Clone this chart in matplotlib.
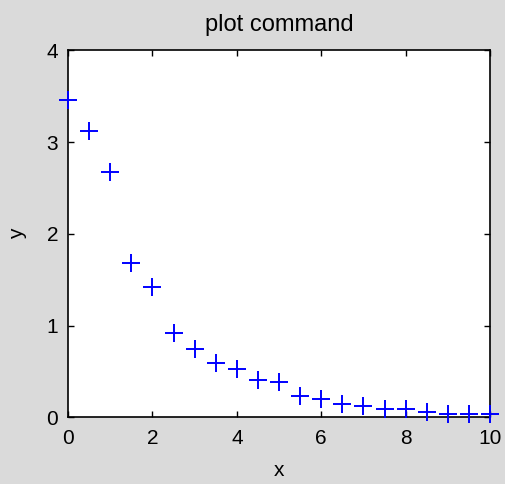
import matplotlib
matplotlib.use("Agg")
import matplotlib.pyplot as plt

# sample points and measured response
x_vals = [0, 0.5, 1, 1.5, 2, 2.5, 3, 3.5, 4, 4.5, 5, 5.5, 6, 6.5, 7, 7.5, 8, 8.5, 9, 9.5, 10]
y_vals = [3.46, 3.12, 2.68, 1.68, 1.42, 0.92, 0.75, 0.59, 0.53, 0.41, 0.39, 0.23, 0.20,
          0.15, 0.12, 0.095, 0.09, 0.06, 0.04, 0.04, 0.04]
x_ticks = [0, 2, 4, 6, 8, 10]
y_ticks = [0, 1, 2, 3, 4]

plt.rcParams['font.family'] = ['Liberation Sans', 'DejaVu Sans']

fig = plt.figure(figsize=(5.05, 4.84), dpi=100, facecolor='#dadada')
ax = fig.add_axes([0.1347, 0.1374, 0.8356, 0.7583])
ax.set_facecolor('white')

ax.plot(x_vals, y_vals, linestyle='none', marker='+', color='#0000ff',
        markersize=12.5, markeredgewidth=1.4, clip_on=False, zorder=3)

ax.set_xlim(0, 10)
ax.set_ylim(0, 4)
ax.set_xticks(x_ticks)
ax.set_yticks(y_ticks)
ax.tick_params(axis='both', direction='in', length=4, width=1, top=True, right=True,
               labelsize=15, colors='black')
ax.tick_params(axis='x', pad=8)
ax.tick_params(axis='y', pad=7)
for s in ax.spines.values():
    s.set_linewidth(1.2)
    s.set_color('black')

ax.set_title('plot command', fontsize=17, pad=14)
ax.set_xlabel('x', fontsize=15, labelpad=10)
ax.set_ylabel('y', fontsize=15, labelpad=14)

fig.savefig('out.png', dpi=100, facecolor=fig.get_facecolor())
